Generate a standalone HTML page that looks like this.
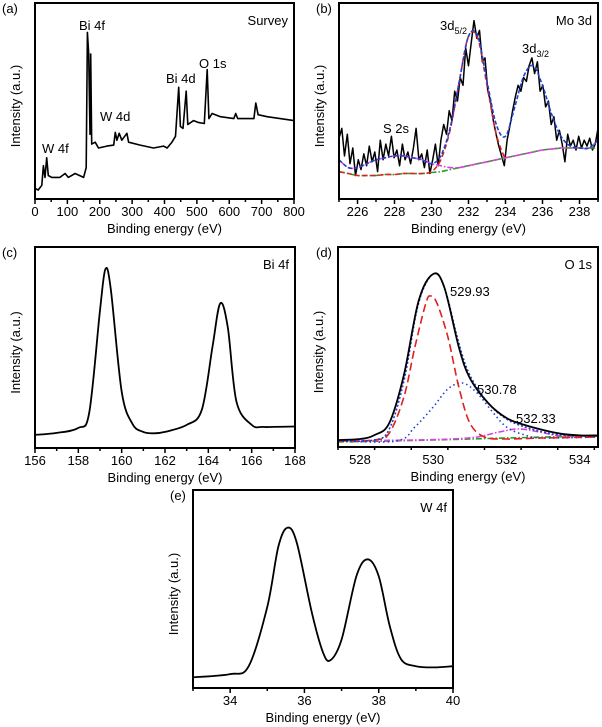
<!DOCTYPE html>
<html><head><meta charset="utf-8"><style>
body{margin:0;background:#fff}
svg{display:block;font-family:"Liberation Sans",sans-serif}
</style></head><body>
<svg id="fig" width="602" height="727" viewBox="0 0 602 727" xmlns="http://www.w3.org/2000/svg"></svg>
<script>
// ---------- data ----------
const surveyX=[0,10,21,26,31,36,41,52,77,93,103,124,150,158,162,166,170,172,175,186,196,222,243,248,253,260,268,284,289,325,366,397,408,423,434,444,449,457,467,472,490,506,523,532,537,547,573,614,620,626,635,676,682,689,717,800];
const surveyY=[.054,.046,.07,.17,.11,.21,.12,.11,.11,.13,.11,.13,.11,.16,.85,.74,.33,.74,.28,.29,.26,.27,.275,.34,.3,.335,.3,.335,.29,.275,.26,.27,.26,.29,.32,.57,.37,.36,.55,.38,.4,.39,.385,.66,.41,.436,.42,.41,.436,.41,.41,.41,.49,.43,.42,.40];

const moRawY=[.31,.36,.22,.33,.18,.26,.12,.2,.15,.23,.17,.27,.19,.24,.14,.3,.2,.28,.22,.32,.21,.25,.17,.28,.2,.24,.18,.26,.36,.2,.23,.16,.25,.13,.2,.28,.17,.3,.38,.33,.45,.4,.55,.5,.62,.58,.77,.68,.8,.91,.82,.86,.7,.72,.55,.5,.4,.33,.27,.22,.17,.3,.37,.45,.52,.58,.55,.62,.6,.68,.72,.64,.7,.55,.58,.47,.5,.38,.42,.3,.35,.28,.19,.33,.27,.3,.25,.32,.26,.3,.27,.31,.25,.28,.36];
const moFitX=[225,225.5,226,226.5,227,227.5,228,228.5,229,229.5,230,230.5,231,231.5,232,232.5,233,233.5,234,234.5,235,235.5,236,236.5,237,237.5,238,238.5,239];
const moGreen=[.14,.13,.12,.12,.12,.125,.125,.13,.13,.13,.135,.14,.15,.16,.17,.18,.19,.2,.21,.22,.23,.24,.25,.255,.26,.26,.26,.26,.26];
const moMagenta=[.2,.16,.16,.18,.2,.21,.22,.22,.21,.2,.18,.17,.16,.16,.17,.18,.19,.2,.21,.22,.23,.24,.25,.255,.26,.26,.26,.26,.3];
const moRedX=[225,225.5,226,226.5,227,227.5,228,228.5,229,229.5,230,230.5,231,231.5,232,232.5,233,233.5,234];
const moRed=[.14,.13,.12,.12,.12,.125,.125,.13,.13,.13,.14,.2,.35,.6,.83,.82,.58,.33,.2];
const moBlue=[.2,.16,.16,.18,.2,.21,.22,.22,.21,.2,.18,.22,.36,.6,.83,.83,.6,.38,.32,.47,.63,.68,.58,.43,.32,.27,.26,.26,.3];

const biX=[156,157,158,158.5,159,159.25,159.5,160,160.5,161,161.5,162,163,163.7,164.2,164.55,164.9,165.3,166,166.5,167,168];
const biY=[.065,.075,.1,.175,.685,.89,.79,.28,.12,.08,.073,.08,.115,.19,.51,.72,.6,.23,.115,.105,.105,.107];

const oX=[527.4,528,528.4,528.8,529.2,529.6,530,530.3,530.7,531,531.5,532,532.5,533,533.5,534,534.5];
const oBlack=[.035,.04,.06,.12,.36,.73,.865,.8,.5,.345,.22,.145,.11,.085,.066,.058,.058];
const oRedX=[527.4,528.4,528.8,529.2,529.5,529.8,529.93,530.1,530.4,530.7,531,531.4,532,533,534.5];
const oRed=[.03,.035,.07,.25,.5,.72,.755,.72,.55,.3,.12,.05,.04,.045,.05];
const oBlueEnvX=[527.4,528.4,528.8,529.2,529.6,530,530.3,530.7,531,531.5,532,532.5,533,533.5,534.5];
const oBlueEnv=[.03,.035,.09,.33,.72,.865,.8,.52,.36,.22,.14,.1,.075,.06,.055];
const oBlue2X=[527.4,529,529.5,530,530.4,530.8,531.2,531.6,532,532.5,533,534.5];
const oBlue2=[.03,.03,.1,.2,.29,.32,.27,.18,.1,.06,.045,.05];
const oMagX=[527.4,529.5,530.5,531.2,531.8,532.33,532.9,533.5,534.5];
const oMag=[.03,.035,.04,.05,.075,.09,.075,.055,.055];
const oGreenX=[527.4,530,532,534.5];
const oGreen=[.025,.035,.045,.055];

const wX=[33,34,34.5,35,35.3,35.55,35.8,36.2,36.5,36.7,37,37.4,37.7,38,38.3,38.6,39,39.5,40];
const wY=[.054,.07,.11,.41,.715,.81,.73,.38,.18,.14,.245,.565,.65,.565,.31,.146,.11,.104,.11];

const ticksA=[0,100,200,300,400,500,600,700,800];
const ticksB=[226,228,230,232,234,236,238];
const ticksC=[156,158,160,162,164,166,168];
const ticksD=[528,530,532,534];
const ticksE=[34,36,38,40];

// ---------- drawing ----------
const NS="http://www.w3.org/2000/svg";
const svg=document.getElementById('fig');
function mk(tag,attrs,parent){const e=document.createElementNS(NS,tag);for(const k in attrs)e.setAttribute(k,attrs[k]);(parent||svg).appendChild(e);return e;}
function smoothPath(pts){
  let d="M"+pts[0][0].toFixed(1)+","+pts[0][1].toFixed(1);
  for(let i=0;i<pts.length-1;i++){
    const p0=pts[Math.max(0,i-1)],p1=pts[i],p2=pts[i+1],p3=pts[Math.min(pts.length-1,i+2)];
    const c1x=p1[0]+(p2[0]-p0[0])/6,c1y=p1[1]+(p2[1]-p0[1])/6;
    const c2x=p2[0]-(p3[0]-p1[0])/6,c2y=p2[1]-(p3[1]-p1[1])/6;
    d+=" C"+c1x.toFixed(1)+","+c1y.toFixed(1)+" "+c2x.toFixed(1)+","+c2y.toFixed(1)+" "+p2[0].toFixed(1)+","+p2[1].toFixed(1);
  }
  return d;
}
function panel(c){
  const g=mk('g',{});
  
  
  const sx=v=>c.L+(v-c.x0)/(c.x1-c.x0)*(c.R-c.L);
  const sy=f=>c.B-f*(c.B-c.T);
  c.series.forEach(s=>{
    const pts=s.x.map((xv,i)=>[sx(xv),sy(s.y[i])]);
    const d=s.smooth?smoothPath(pts):"M"+pts.map(p=>p[0].toFixed(1)+","+p[1].toFixed(1)).join(" L");
    const p=mk('path',{d:d,fill:'none',stroke:s.color,'stroke-width':s.w||1.6,'stroke-dasharray':s.dash||'none','stroke-linejoin':'round'},g);
    
    
  });
  const box=mk('rect',{x:c.L,y:c.T,width:c.R-c.L,height:c.B-c.T,fill:'none',stroke:'#000','stroke-width':2},g);
  
  
  for(let v=c.x0;v<=c.x1+1e-9;v+=c.minor){
    const major=c.ticks.some(t=>Math.abs(t-v)<1e-6);
    const tk=mk('line',{x1:sx(v),x2:sx(v),y1:c.B,y2:c.B+(major?5:3),stroke:'#000','stroke-width':1.5},g);
    
    
  }
  c.ticks.forEach(t=>{
    const tl=mk('text',{x:sx(t),y:c.B+17,'font-size':13,'text-anchor':'middle'},g);
    tl.textContent=t;
    
    
  });
  const xl=mk('text',{x:(c.L+c.R)/2,y:c.B+34,'font-size':13,'text-anchor':'middle'},g);
  xl.textContent='Binding energy (eV)';
  
  
  const yx=c.L-15,yy=(c.T+c.B)/2+5;
  const yl=mk('text',{x:yx,y:yy,'font-size':13,'text-anchor':'middle',transform:'rotate(-90 '+yx+' '+yy+')'},g);
  yl.textContent='Intensity (a.u.)';
  
  
  const pl=mk('text',{x:c.lx,y:c.T+10,'font-size':13},g);
  pl.textContent=c.letter;
  
  
  const tt=mk('text',{x:c.R-6,y:c.T+22,'font-size':13,'text-anchor':'end'},g);
  tt.textContent=c.title;
  
  
  (c.notes||[]).forEach(n=>{
    const t=mk('text',{x:n[0],y:n[1],'font-size':13},g);
    t.innerHTML=n[2];
    
    
  });
}
const moRawX=moRawY.map((v,i)=>225+i*14/(moRawY.length-1));
panel({name:'panel-a-survey',letter:'(a)',title:'Survey',lx:2,L:35,R:294,T:3,B:199,x0:0,x1:800,ticks:ticksA,minor:50,
  series:[{name:'survey-spectrum',x:surveyX,y:surveyY,color:'#000'}],
  notes:[[79,30,'Bi 4f'],[42,153,'W 4f'],[100,121,'W 4d'],[166,83,'Bi 4d'],[199,68,'O 1s']]});
panel({name:'panel-b-mo3d',letter:'(b)',title:'Mo 3d',lx:316,L:339,R:598,T:3,B:199,x0:225,x1:239,ticks:ticksB,minor:1,
  series:[{name:'mo-raw',x:moRawX,y:moRawY,color:'#000',w:1.5},
    {name:'mo-background',x:moFitX,y:moGreen,color:'#2a9a2a',dash:'6 2 1.5 2',smooth:1},
    {name:'mo-s2s-fit',x:moFitX,y:moMagenta,color:'#e040e0',dash:'6 2 1.5 2',smooth:1},
    {name:'mo-3d52-fit',x:moRedX,y:moRed,color:'#e02020',dash:'5 3',smooth:1},
    {name:'mo-envelope-fit',x:moFitX,y:moBlue,color:'#2040d0',dash:'4 2',smooth:1}],
  notes:[[440,30,'3d<tspan font-size="9" dy="4">5/2</tspan>'],[522,53,'3d<tspan font-size="9" dy="4">3/2</tspan>'],[383,133,'S 2s']]});
panel({name:'panel-c-bi4f',letter:'(c)',title:'Bi 4f',lx:2,L:35,R:295,T:247,B:448,x0:156,x1:168,ticks:ticksC,minor:1,
  series:[{name:'bi4f-spectrum',x:biX,y:biY,color:'#000',w:1.8,smooth:1}]});
panel({name:'panel-d-o1s',letter:'(d)',title:'O 1s',lx:316,L:338,R:598,T:247,B:447,x0:527.4,x1:534.5,ticks:ticksD,minor:1,
  series:[{name:'o1s-background',x:oGreenX,y:oGreen,color:'#2a9a2a',dash:'6 2 1.5 2',smooth:1},
    {name:'o1s-532-fit',x:oMagX,y:oMag,color:'#e040e0',dash:'6 2 1.5 2',smooth:1},
    {name:'o1s-530-78-fit',x:oBlue2X,y:oBlue2,color:'#2040d0',dash:'1.5 3',smooth:1},
    {name:'o1s-529-93-fit',x:oRedX,y:oRed,color:'#e02020',dash:'8 4',smooth:1},
    {name:'o1s-envelope-fit',x:oBlueEnvX,y:oBlueEnv,color:'#2040d0',dash:'2 2',smooth:1},
    {name:'o1s-spectrum',x:oX,y:oBlack,color:'#000',w:1.8,smooth:1}],
  notes:[[450,296,'529.93'],[477,394,'530.78'],[516,423,'532.33']]});
panel({name:'panel-e-w4f',letter:'(e)',title:'W 4f',lx:170,L:193,R:453,T:490,B:688,x0:33,x1:40,ticks:ticksE,minor:1,
  series:[{name:'w4f-spectrum',x:wX,y:wY,color:'#000',w:1.8,smooth:1}]});
</script>
</body></html>
